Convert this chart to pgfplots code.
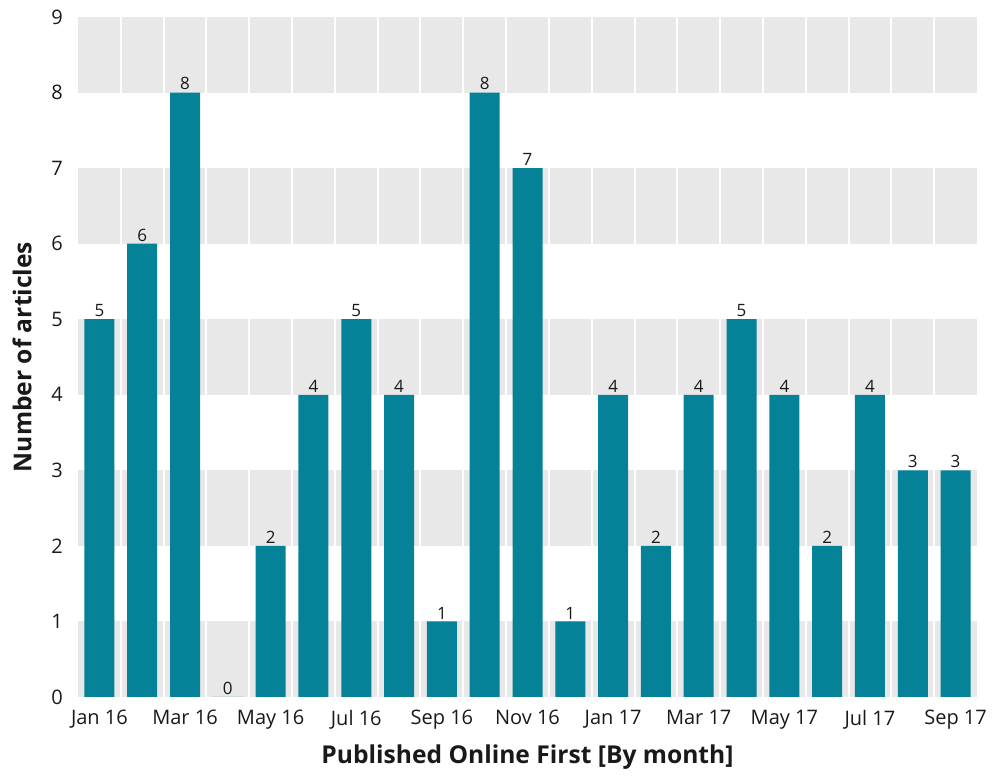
\documentclass[border=0pt]{standalone}
\usepackage{fontspec}
\setmainfont{Open Sans}
\usepackage{pgfplots}
\pgfplotsset{compat=1.18}
\definecolor{barteal}{RGB}{5,130,152}
\definecolor{band}{RGB}{232,232,232}
\definecolor{txt}{RGB}{25,25,25}

\begin{document}
\begin{tikzpicture}
\begin{axis}[set layers, scale only axis, width=449.5pt, height=340pt,
  xmin=-0.5, xmax=20.5, ymin=0, ymax=9,
  axis line style={draw=none}, major tick length=0pt, minor tick length=0pt,
  ytick={0,1,...,9},
  xtick={0,2,...,20},
  xticklabels={Jan 16,Mar 16,May 16,Jul 16,Sep 16,Nov 16,Jan 17,Mar 17,May 17,Jul 17,Sep 17},
  minor xtick={0.5,1.5,...,19.5},
  xminorgrids=true, minor grid style={white, line width=1pt},
  /pgf/number format/assume math mode=true,
  tick label style={font=\fontsize{10}{12}\selectfont, text=txt},
  yticklabel style={xshift=-4pt},
  xticklabel style={yshift=-3pt},
  ybar, bar width=15pt,
  nodes near coords,
  every node near coord/.append style={font=\fontsize{8.5}{9}\selectfont, text=txt, inner sep=1pt},
  xlabel={Published Online First [By month]},
  ylabel={Number of articles},
  label style={font=\bfseries\fontsize{12.3}{14}\selectfont, text=txt},
  xlabel style={at={(axis description cs:0.5,0)}, yshift=-30pt, anchor=center},
  ylabel style={at={(axis description cs:0,0.5)}, rotate=0, yshift=28pt, anchor=center},
]
\begin{pgfonlayer}{axis background}
\fill[band] (axis cs:-0.5,0) rectangle (axis cs:20.5,1);
\fill[band] (axis cs:-0.5,2) rectangle (axis cs:20.5,3);
\fill[band] (axis cs:-0.5,4) rectangle (axis cs:20.5,5);
\fill[band] (axis cs:-0.5,6) rectangle (axis cs:20.5,7);
\fill[band] (axis cs:-0.5,8) rectangle (axis cs:20.5,9);
\end{pgfonlayer}
\addplot[fill=barteal, draw=none] coordinates {
 (0,5) (1,6) (2,8) (3,0) (4,2) (5,4) (6,5) (7,4) (8,1) (9,8) (10,7)
 (11,1) (12,4) (13,2) (14,4) (15,5) (16,4) (17,2) (18,4) (19,3) (20,3)};
\end{axis}
\path (-39pt,-38.5pt) rectangle (459.5pt,348.5pt);
\end{tikzpicture}
\end{document}
